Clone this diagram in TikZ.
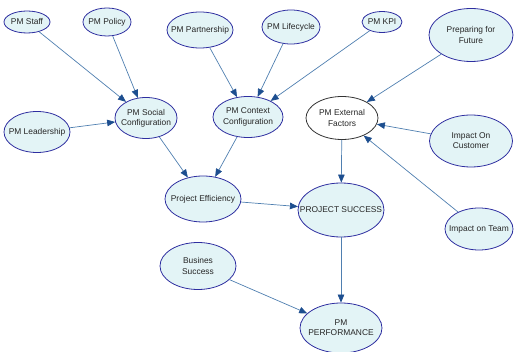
\documentclass[tikz,border=0pt]{standalone}
\usepackage{fontspec}
\setmainfont{Liberation Sans}
\usetikzlibrary{arrows.meta,shapes.geometric}
\definecolor{nodefill}{HTML}{E3F4F6}
\definecolor{nodeline}{HTML}{2E2EA0}
\definecolor{edgeline}{HTML}{4F7FB0}
\definecolor{tipcol}{HTML}{1D4E8F}
\tikzset{
  lbl/.style={font=\fontsize{8.4}{10.2}\selectfont, text=black!85, align=center, inner sep=0pt},
  txt/.style={label={[lbl]center:#1}},
  bubble/.style={ellipse, draw=nodeline, fill=nodefill, line width=0.8pt, inner sep=0pt},
  plainbubble/.style={bubble, draw=black!80, fill=white},
  link/.style={draw=edgeline, line width=0.7pt, -{Triangle[length=8pt,width=6.5pt,color=tipcol]}},
}
\begin{document}
\begin{tikzpicture}[x=1pt,y=-1pt]
\useasboundingbox (0,0) rectangle (514,352);
\node[bubble, minimum width=46pt, minimum height=22pt, txt={PM Staff}] (staff) at (27,22) {};
\node[bubble, minimum width=48pt, minimum height=28pt, txt={PM Policy}] (policy) at (107,22) {};
\node[bubble, minimum width=66pt, minimum height=36pt, txt={PM Partnership}] (partner) at (200,30) {};
\node[bubble, minimum width=58pt, minimum height=34pt, txt={PM Lifecycle}] (life) at (291,27) {};
\node[bubble, minimum width=40pt, minimum height=21pt, txt={PM KPI}] (kpi) at (382,22) {};
\node[bubble, minimum width=84pt, minimum height=53pt, txt={Preparing for\\Future}] (prep) at (471,35) {};
\node[bubble, minimum width=66pt, minimum height=41pt, txt={PM Leadership}] (lead) at (37,132) {};
\node[bubble, minimum width=62pt, minimum height=41pt, txt={PM Social\\Configuration}] (social) at (146,118) {};
\node[bubble, minimum width=70pt, minimum height=41pt, txt={PM Context\\Configuration}] (context) at (248,117) {};
\node[plainbubble, minimum width=72pt, minimum height=43pt, txt={PM External\\Factors}] (ext) at (342,118) {};
\node[bubble, minimum width=83pt, minimum height=52pt, txt={Impact On\\Customer}] (cust) at (471,141) {};
\node[bubble, minimum width=76pt, minimum height=46pt, txt={Project Efficiency}] (eff) at (203,199) {};
\node[bubble, minimum width=86pt, minimum height=54pt, txt={PROJECT SUCCESS}] (succ) at (341,210) {};
\node[bubble, minimum width=68pt, minimum height=42pt, txt={Impact on Team}] (team) at (479,229) {};
\node[bubble, minimum width=76pt, minimum height=47pt, txt={Busines\\Success}] (bus) at (198,266) {};
\node[bubble, minimum width=82pt, minimum height=50pt, txt={PM\\PERFORMANCE}] (perf) at (341,328) {};

\draw[link] (staff) -- (social);
\draw[link] (policy) -- (social);
\draw[link] (lead) -- (social);
\draw[link] (partner) -- (context);
\draw[link] (life) -- (context);
\draw[link] (kpi) -- (context);
\draw[link] (social) -- (eff);
\draw[link] (context) -- (eff);
\draw[link] (prep) -- (ext);
\draw[link] (cust) -- (ext);
\draw[link] (team) -- (ext);
\draw[link] (ext) -- (succ);
\draw[link] (eff) -- (succ);
\draw[link] (succ) -- (perf);
\draw[link] (bus) -- (perf);
\end{tikzpicture}
\end{document}
